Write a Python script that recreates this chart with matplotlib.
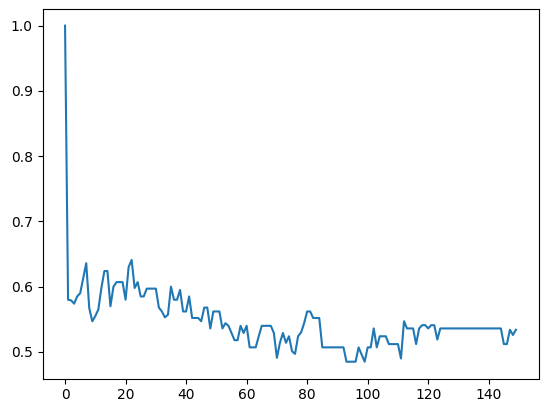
import matplotlib
matplotlib.use("Agg")
import matplotlib.pyplot as plt

# values, one per step (0..149)
head = [1.000, 0.580, 0.579, 0.574, 0.585, 0.590, 0.613, 0.636, 0.567, 0.547,
        0.555, 0.565, 0.598, 0.624, 0.624, 0.570, 0.600, 0.607, 0.607, 0.607,
        0.580, 0.630, 0.641, 0.598, 0.607, 0.585, 0.585, 0.597, 0.597, 0.597,
        0.597, 0.568, 0.562, 0.553, 0.557, 0.600, 0.580, 0.580, 0.595, 0.562,
        0.562, 0.585, 0.552, 0.552, 0.552, 0.547, 0.568, 0.568, 0.536, 0.562]
middle = [0.562, 0.562, 0.536, 0.544, 0.540, 0.529, 0.518, 0.518, 0.540, 0.529,
          0.540, 0.507, 0.507, 0.507, 0.524, 0.540, 0.540, 0.540, 0.540, 0.529,
          0.491, 0.514, 0.529, 0.514, 0.524, 0.501, 0.497, 0.524, 0.530, 0.544,
          0.562, 0.562, 0.552, 0.552, 0.552, 0.507, 0.507, 0.507, 0.507, 0.507,
          0.507, 0.507, 0.507, 0.485, 0.485, 0.485, 0.485, 0.507, 0.496, 0.485]
tail = [0.507, 0.507, 0.536, 0.507, 0.524, 0.524, 0.524, 0.512, 0.512, 0.512,
        0.512, 0.490, 0.547, 0.536, 0.536, 0.536, 0.512, 0.536, 0.541, 0.541,
        0.536, 0.541, 0.541, 0.519, 0.536, 0.536, 0.536, 0.536, 0.536, 0.536,
        0.536, 0.536, 0.536, 0.536, 0.536, 0.536, 0.536, 0.536, 0.536, 0.536,
        0.536, 0.536, 0.536, 0.536, 0.536, 0.512, 0.512, 0.534, 0.526, 0.534]
values = head + middle + tail

fig = plt.figure(figsize=(5.47, 4.13), dpi=100)
ax = fig.add_axes([0.0777, 0.0835, 0.9068, 0.895])
ax.plot(range(len(values)), values)
fig.savefig("out.png", dpi=100)
